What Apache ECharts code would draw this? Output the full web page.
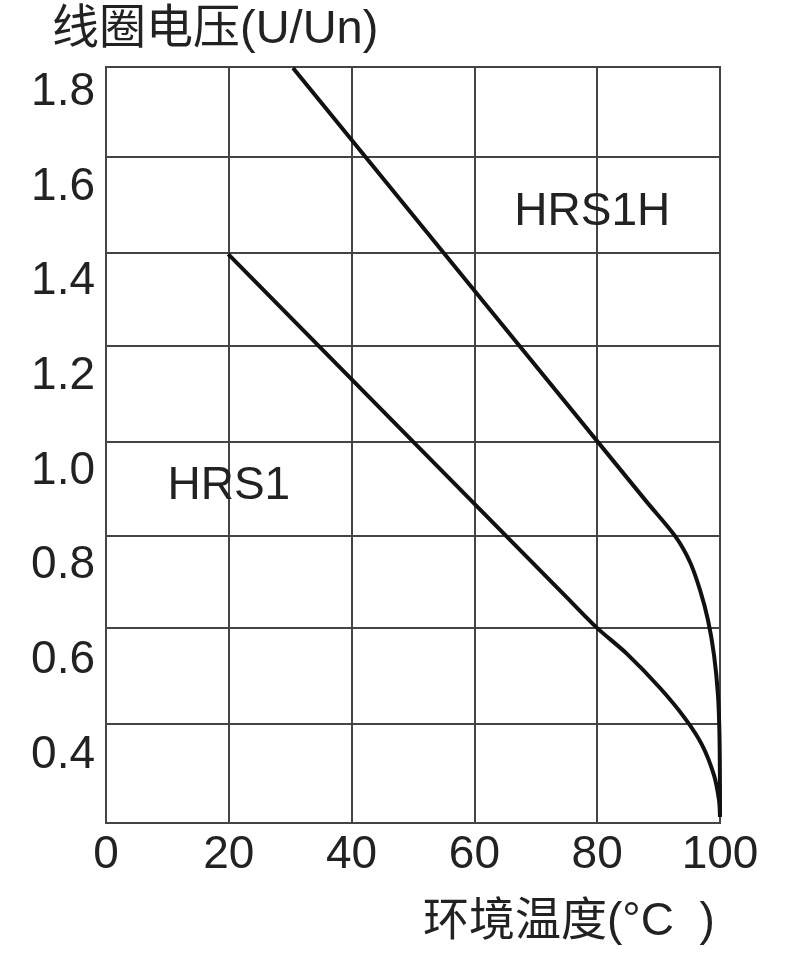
<!DOCTYPE html>
<html>
<head>
<meta charset="utf-8">
<script src="https://cdn.jsdelivr.net/npm/echarts@6/dist/echarts.min.js"></script>
<style>
html,body{margin:0;padding:0;background:#fff;}
#c{width:788px;height:957px;}
</style>
</head>
<body>
<div id="c"></div>
<script>
// ---- data ----
const yTitle = '线圈电压(U/Un)';
const xTitle = '环境温度(°C  )';
const xTickInterval = 20;
const yLabelValues = [0.4, 0.6, 0.8, 1.0, 1.2, 1.4, 1.6, 1.8];
const yGridValues = [0.466, 0.669, 0.863, 1.061, 1.264, 1.460, 1.663];
const yRange = [0.257, 1.853];
const seriesNames = ['HRS1H', 'HRS1'];
const hrs1h = [[30.46,1.851],[88.0,0.936],[92.67,0.863],[95.11,0.808],[96.74,0.749],[98.05,0.685],[99.02,0.612],[99.67,0.527],[99.93,0.432],[100,0.27]];
const hrs1 = [[19.9,1.458],[75.0,0.734],[79.97,0.669],[84.85,0.614],[90.23,0.542],[94.30,0.478],[97.07,0.422],[99.02,0.358],[99.84,0.305],[100,0.27]];
const seriesLabelPos = [[79.2,1.547],[20.0,0.967]];

const FONT = 'Liberation Sans, Arial, "Noto Sans CJK SC", sans-serif';
const TXT = '#222';
const GRID = '#444';

const chart = echarts.init(document.getElementById('c'), null, {renderer:'canvas'});
const mkSeries = (name, data, pos) => ({
  name, type:'line', data, symbol:'none', smooth:0.3,
  lineStyle:{color:'#111', width:4},
  markPoint:{
    symbol:'circle', symbolSize:0,
    label:{show:true, formatter:name, color:TXT, fontSize:46, fontFamily:FONT, position:'inside'},
    data:[{coord:pos}]
  }
});
chart.setOption({
  animation:false,
  backgroundColor:'#fff',
  title:[
    {text:yTitle, left:52, top:7, padding:0, textStyle:{fontSize:47, fontWeight:'normal', color:TXT, fontFamily:FONT}},
    {text:xTitle, left:423, top:899, padding:0, textStyle:{fontSize:46, fontWeight:'normal', color:TXT, fontFamily:FONT}}
  ],
  grid:{left:106, right:68, top:67, bottom:134, show:true, borderColor:GRID, borderWidth:2},
  xAxis:{
    type:'value', min:0, max:100, interval:xTickInterval,
    axisLine:{show:true, lineStyle:{color:GRID, width:2}},
    axisTick:{show:false},
    axisLabel:{color:TXT, fontSize:46, fontFamily:FONT, margin:9},
    splitLine:{show:true, lineStyle:{color:GRID, width:2}}
  },
  yAxis:{
    type:'value', min:yRange[0], max:yRange[1],
    axisLine:{show:true, lineStyle:{color:GRID, width:2}},
    axisTick:{show:false, customValues:yGridValues},
    axisLabel:{color:TXT, fontSize:46, fontFamily:FONT, margin:11, customValues:yLabelValues,
      formatter:v => v.toFixed(1)},
    splitLine:{show:true, lineStyle:{color:GRID, width:2}}
  },
  series:[
    mkSeries(seriesNames[0], hrs1h, seriesLabelPos[0]),
    mkSeries(seriesNames[1], hrs1, seriesLabelPos[1])
  ]
});
</script>
</body>
</html>
